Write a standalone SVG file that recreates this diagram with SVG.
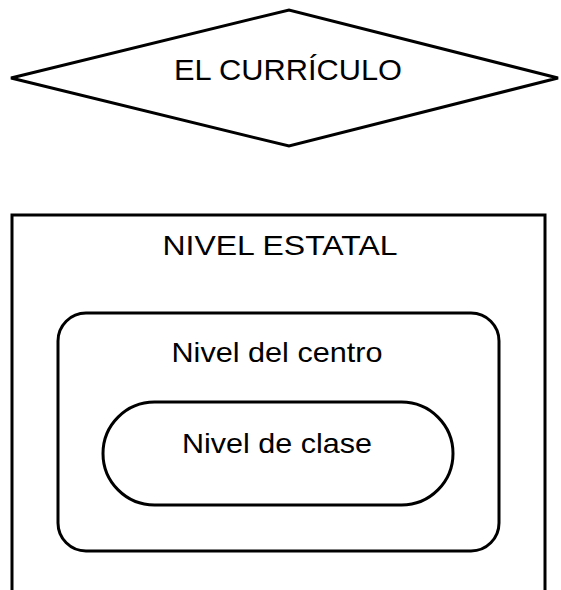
<svg xmlns="http://www.w3.org/2000/svg" width="561" height="590" viewBox="0 0 561 590">
<style>
.s{fill:#fff;stroke:#000;stroke-width:3;stroke-linejoin:miter}
.t{font-family:"Liberation Sans",Arial,sans-serif;font-size:28px;fill:#000;text-anchor:middle}
</style>
<rect width="561" height="590" fill="#fff"/>
<g id="curriculo">
<polygon class="s" points="11,78 289,10 558,78 289,146"/>
<text class="t" x="288" y="80" style="font-size:30px" textLength="228" lengthAdjust="spacingAndGlyphs">EL CURRÍCULO</text>
</g>
<g id="nivel-estatal">
<rect class="s" x="12" y="215" width="533" height="400"/>
<text class="t" x="280" y="255" textLength="235" lengthAdjust="spacingAndGlyphs">NIVEL ESTATAL</text>
</g>
<g id="nivel-centro">
<rect class="s" x="58" y="313" width="441" height="238" rx="28" ry="28"/>
<text class="t" x="277" y="362" textLength="211" lengthAdjust="spacingAndGlyphs">Nivel del centro</text>
</g>
<g id="nivel-clase">
<rect class="s" x="103" y="402" width="350" height="103" rx="51.5" ry="51.5"/>
<text class="t" x="277" y="453" textLength="190" lengthAdjust="spacingAndGlyphs">Nivel de clase</text>
</g>
<g id="connectors"></g>
</svg>
